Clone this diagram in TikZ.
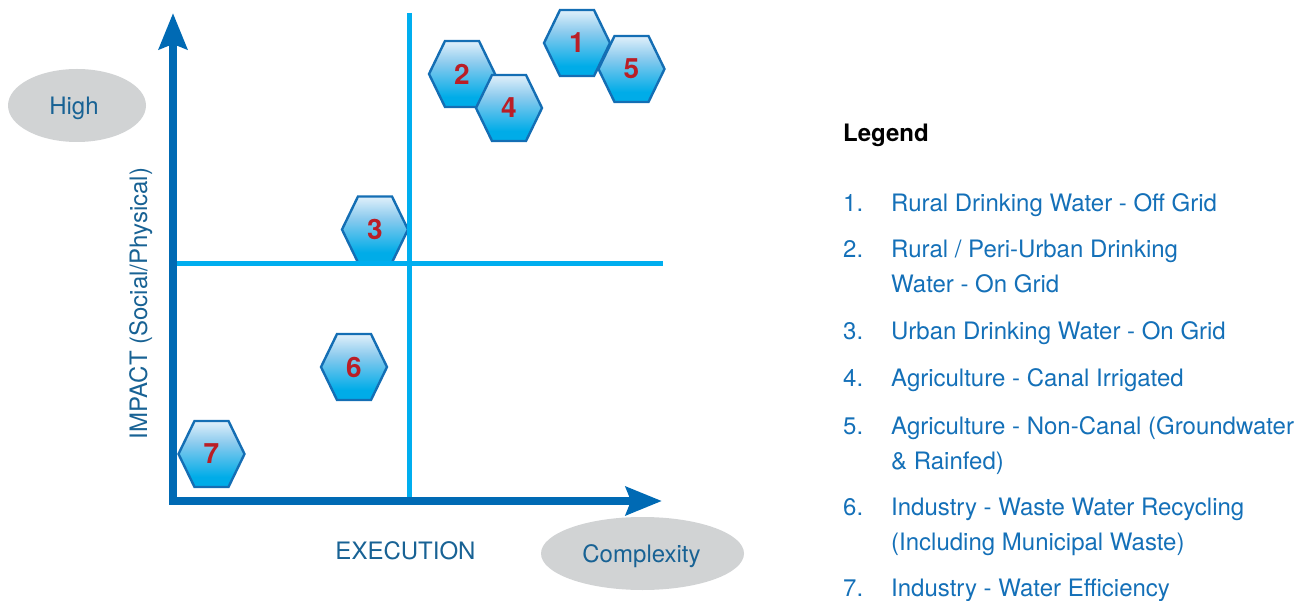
\documentclass[tikz,border=0pt]{standalone}
\usepackage{fontspec}
\setmainfont{TeX Gyre Heros}
\usetikzlibrary{arrows.meta}

\definecolor{axisblue}{RGB}{0,106,180}
\definecolor{gridcyan}{RGB}{0,174,239}
\definecolor{hexedge}{RGB}{20,110,180}
\definecolor{hextop}{RGB}{236,245,252}
\definecolor{hexmid}{RGB}{140,203,238}
\definecolor{hexbot}{RGB}{0,172,232}
\definecolor{numred}{RGB}{186,30,38}
\definecolor{labelblue}{RGB}{24,98,148}
\definecolor{legendblue}{RGB}{20,112,184}
\definecolor{bubble}{RGB}{209,211,212}

% light-to-cyan fill of the hexagons (0bp = bottom)
\pgfdeclareverticalshading{hexfill}{100bp}{color(0bp)=(hexbot); color(34bp)=(hexbot); color(58bp)=(hexmid); color(75bp)=(hextop); color(100bp)=(hextop)}

\begin{document}
\begin{tikzpicture}[x=1pt,y=-1pt,
  txt/.style={font=\fontsize{24}{28}\selectfont, inner sep=0pt},
  hexcell/.style={minimum width=72pt, minimum height=72pt, inner sep=0pt,
    text=numred, font=\bfseries\fontsize{28}{28}\selectfont,
    path picture={
      \shadedraw[shading=hexfill, draw=hexedge, line width=2.4pt, line join=miter]
        ([shift={(-33,0)}]path picture bounding box.center)
        -- ([shift={(-17,-33)}]path picture bounding box.center)
        -- ([shift={(17,-33)}]path picture bounding box.center)
        -- ([shift={(33,0)}]path picture bounding box.center)
        -- ([shift={(17,33)}]path picture bounding box.center)
        -- ([shift={(-17,33)}]path picture bounding box.center)
        -- cycle;}},
  axisline/.style={draw=axisblue, line width=8pt, line join=miter},
  quadline/.style={draw=gridcyan, line width=5pt},
  legtxt/.style={txt, text=legendblue, anchor=base west},
]
\useasboundingbox (0,0) rectangle (1309,601);

% grey bubbles behind the axis labels
\path[fill=bubble] (77,105.5) ellipse [x radius=69, y radius=36.5];
\path[fill=bubble] (642.5,553.5) ellipse [x radius=101.5, y radius=36.5];
\node[txt, text=labelblue, anchor=base] (high) at (74,115) {High};
\node[txt, text=labelblue, anchor=base] (cplx) at (641.5,562) {Complexity};

% positioned items
\node[hexcell] (h1) at (577,43) {1};
\node[hexcell] (h5) at (631.5,69) {5};
\node[hexcell] (h2) at (462,74) {2};
\node[hexcell] (h4) at (509,108) {4};
\node[hexcell] (h3) at (375,229.5) {3};
\node[hexcell] (h6) at (354,367) {6};
\node[hexcell] (h7) at (211.5,454) {7};

% quadrant dividers
\coordinate (vtop) at (409.5,13);
\coordinate (vbot) at (409.5,501);
\coordinate (hleft) at (173,264);
\coordinate (hright) at (663,264);
\draw[quadline] (vtop) -- (vbot);
\draw[quadline] (hleft) -- (hright);

% axes
\coordinate (ytip) at (173,13);
\coordinate (origin) at (173,501);
\coordinate (xtip) at (662,501);
\draw[axisline, {Stealth[length=36pt, width=28pt, inset=5pt]}-{Stealth[length=36pt, width=28pt, inset=5pt]}]
  (ytip) -- (origin) -- (xtip);

% axis titles
\node[txt, text=labelblue, anchor=base] (exec) at (405.5,559) {EXECUTION};
\node[txt, text=labelblue, anchor=base, rotate=90] (impact) at (147,303.5) {IMPACT (Social/Physical)};

% legend
\node[txt, anchor=base west, font=\bfseries\fontsize{24}{28}\selectfont] (legend) at (843,142) {Legend};
\node[legtxt] (n1) at (843,212) {1.};
\node[legtxt] (t1) at (891,212) {Rural Drinking Water - Off Grid};
\node[legtxt] (n2) at (843,258) {2.};
\node[legtxt] (t2) at (891,258) {Rural / Peri-Urban Drinking};
\node[legtxt] (t2b) at (891,293) {Water - On Grid};
\node[legtxt] (n3) at (843,340) {3.};
\node[legtxt] (t3) at (891,340) {Urban Drinking Water - On Grid};
\node[legtxt] (n4) at (843,387) {4.};
\node[legtxt] (t4) at (891,387) {Agriculture - Canal Irrigated};
\node[legtxt] (n5) at (843,434) {5.};
\node[legtxt] (t5) at (891,434) {Agriculture - Non-Canal (Groundwater};
\node[legtxt] (t5b) at (891,469) {\& Rainfed)};
\node[legtxt] (n6) at (843,515) {6.};
\node[legtxt] (t6) at (891,515) {Industry - Waste Water Recycling};
\node[legtxt] (t6b) at (891,550) {(Including Municipal Waste)};
\node[legtxt] (n7) at (843,596) {7.};
\node[legtxt] (t7) at (891,596) {Industry - Water Efficiency};
\end{tikzpicture}
\end{document}
